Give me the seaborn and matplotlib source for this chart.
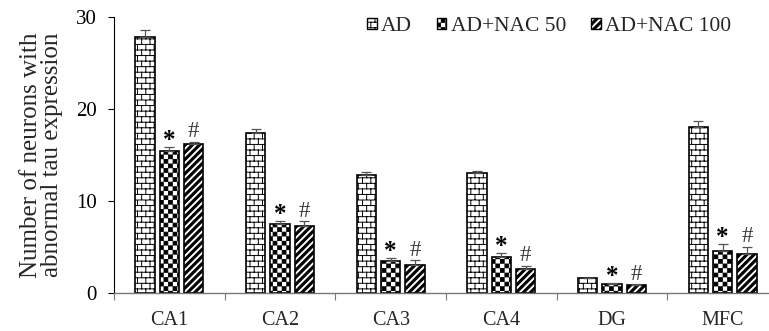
import numpy as np
import pandas as pd
import matplotlib
matplotlib.use("Agg")
import matplotlib.pyplot as plt
import matplotlib.hatch as mhatch
from matplotlib.path import Path
from matplotlib.patches import Patch
import seaborn as sns

# ---------------- data ----------------
categories = ['CA1', 'CA2', 'CA3', 'CA4', 'DG', 'MFC']
groups = ['AD', 'AD+NAC 50', 'AD+NAC 100']
ad_mean = [27.8, 17.4, 12.85, 13.0, 1.55, 18.05]
ad_err = [0.8, 0.4, 0.3, 0.3, 0.08, 0.7]
nac50_mean = [15.4, 7.5, 3.5, 3.9, 1.0, 4.5]
nac50_err = [0.5, 0.3, 0.25, 0.45, 0.05, 0.8]
nac100_mean = [16.2, 7.3, 3.0, 2.6, 0.85, 4.2]
nac100_err = [0.25, 0.5, 0.55, 0.35, 0.05, 0.8]
sig_marks = ['', '*', '#']
yticks = [0, 10, 20, 30]
ylabel = 'Number of neurons with\nabnormal tau expression'

means = [ad_mean, nac50_mean, nac100_mean]
errs = [ad_err, nac50_err, nac100_err]

# ---------------- custom hatch patterns ----------------
class CustomHatch(mhatch.HatchPatternBase):
    def __init__(self, hatch, density):
        verts, codes = [], []
        if hatch and hatch[0] == 'x':      # brick
            R, B = 18, 12
            for j in range(R + 1):
                y = j / R
                verts += [(0, y), (1, y)]
                codes += [Path.MOVETO, Path.LINETO]
            for j in range(R):
                off = 0 if j % 2 == 0 else 0.5 / B
                for k in range(B + 1):
                    x = k / B + off
                    if x <= 1.0:
                        verts += [(x, j / R), (x, (j + 1) / R)]
                        codes += [Path.MOVETO, Path.LINETO]
        elif hatch and hatch[0] == '+':    # checkerboard
            N = 22
            c = 1 / N
            s = 0.004
            for i in range(N):
                for j in range(N):
                    if (i + j) % 2 == 0:
                        x0, y0 = i * c + s, j * c + s
                        x1, y1 = (i + 1) * c - s, (j + 1) * c - s
                        verts += [(x0, y0), (x1, y0), (x1, y1), (x0, y1), (x0, y0)]
                        codes += [Path.MOVETO, Path.LINETO, Path.LINETO,
                                  Path.LINETO, Path.CLOSEPOLY]
        elif hatch and hatch[0] == '/':    # thick diagonal stripes
            N = 14
            p = 1 / N
            t = 0.42 * p
            for k in range(-N - 1, N + 2):
                x0 = k * p
                verts += [(x0, 0), (x0 + t, 0), (x0 + t + 1, 1), (x0 + 1, 1), (x0, 0)]
                codes += [Path.MOVETO, Path.LINETO, Path.LINETO,
                          Path.LINETO, Path.CLOSEPOLY]
        self.verts = np.array(verts, dtype=float).reshape(-1, 2)
        self.codes_ = np.array(codes, dtype=Path.code_type)
        self.num_vertices = len(self.verts)
        self.filled = True
        self.should_stroke = True

    def set_vertices_and_codes(self, vertices, codes):
        vertices[:] = self.verts
        codes[:] = self.codes_

mhatch._hatch_types = [CustomHatch]
hatches = ['x', '+', '/']

# ---------------- style ----------------
sns.set_theme(style='ticks')
plt.rcParams['font.family'] = ['Liberation Serif', 'DejaVu Serif']
plt.rcParams['hatch.linewidth'] = 0.7
plt.rcParams['hatch.color'] = 'black'

rows = []
for g, m in zip(groups, means):
    for c, v in zip(categories, m):
        rows.append({'region': c, 'group': g, 'value': v})
df = pd.DataFrame(rows)

fig = plt.figure(figsize=(7.69, 3.31), dpi=100)
ax = fig.add_axes([114 / 769, 38.3 / 331, 664 / 769, 275.4 / 331])

sns.barplot(data=df, x='region', y='value', hue='group', order=categories,
            hue_order=groups, palette=['white'] * 3, width=0.66, gap=0.2,
            edgecolor='black', linewidth=1.2, errorbar=None, legend=False,
            saturation=1, ax=ax)

bar_containers = list(ax.containers)
for i, cont in enumerate(bar_containers):
    xs, hs = [], []
    for bar in cont:
        bar.set_hatch(hatches[i])
        bar.set_edgecolor('black')
        bar.set_linewidth(1.2)
        xs.append(bar.get_x() + bar.get_width() / 2)
        hs.append(bar.get_height())
    xs = np.array(xs)
    hs = np.array(hs)
    e = np.array(errs[i])
    ax.errorbar(xs, hs, yerr=[np.zeros_like(e), e], fmt='none',
                ecolor='#555555', elinewidth=0.9, capsize=3.5, capthick=0.9,
                zorder=1)
    if sig_marks[i]:
        for x, h, ee in zip(xs, hs, e):
            if sig_marks[i] == '*':
                ax.annotate('*', (x, h + ee), xytext=(0, -3.5), textcoords='offset points',
                            ha='center', va='bottom', fontsize=18, fontweight='bold',
                            color='black')
            else:
                ax.annotate('#', (x, h + ee), xytext=(0, -0.5), textcoords='offset points',
                            ha='center', va='bottom', fontsize=16.5, color='#3a3a3a')

ax.set_ylim(0, 30)
ax.set_xlim(-0.5, 5.5)
ax.set_yticks(yticks)
ax.set_yticklabels([str(t) for t in yticks], fontsize=15)
ax.set_xticks(range(len(categories)))
ax.set_xticklabels(categories, fontsize=14.5)
ax.set_xticks(np.arange(-0.5, 6, 1), minor=True)
ax.tick_params(axis='x', which='major', length=0, pad=13.5)
ax.tick_params(axis='x', which='minor', length=5, width=0.8, color='#777777', direction='out')
ax.tick_params(axis='y', length=4.3, width=0.8, direction='out', pad=8, colors='black')
ax.set_xlabel('')
ax.set_ylabel(ylabel, fontsize=18, linespacing=0.95)
ax.yaxis.set_label_coords(-0.077, 0.5)

sns.despine(ax=ax)
ax.spines['left'].set_linewidth(0.8)
ax.spines['left'].set_color('black')
ax.spines['bottom'].set_linewidth(1.0)
ax.spines['bottom'].set_color('#777777')

handles = [Patch(facecolor='white', edgecolor='black', hatch=h, linewidth=1.0) for h in hatches]
ax.legend(handles, groups, loc='upper right', bbox_to_anchor=(731 / 769, 1 - 17 / 331),
          bbox_transform=fig.transFigure, ncol=3, frameon=False, fontsize=15.5,
          handlelength=0.45, handleheight=0.45, handletextpad=0.2,
          columnspacing=1.15, borderpad=0, borderaxespad=0)

fig.savefig('out.png', dpi=100)
